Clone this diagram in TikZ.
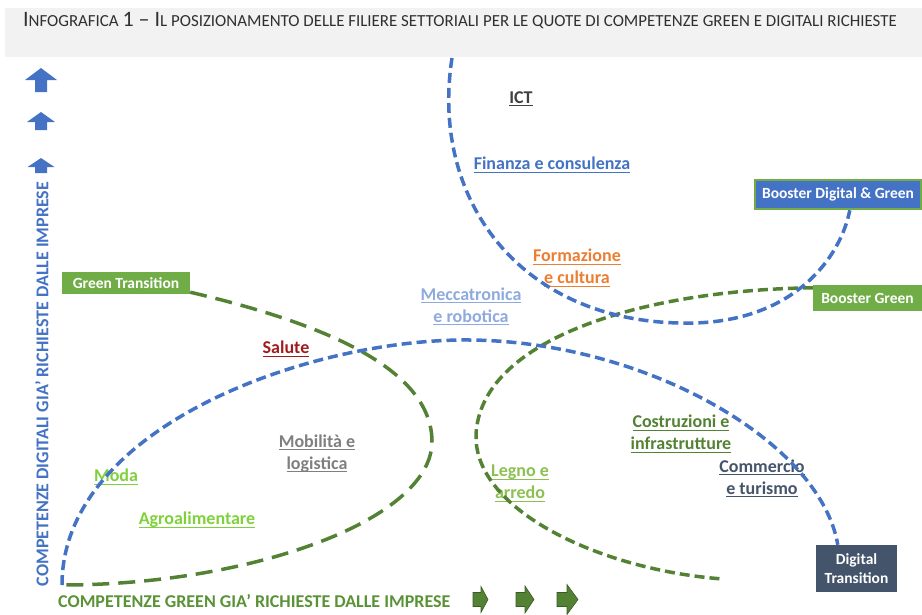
\documentclass[tikz,border=0pt]{standalone}
\usepackage{fontspec}
\setmainfont{Carlito}
\usetikzlibrary{calc}

\definecolor{dgblue}{HTML}{4472C4}
\definecolor{dggreen}{HTML}{70AD47}
\definecolor{dkgreen}{HTML}{548235}
\definecolor{axgreen}{HTML}{5A9236}
\definecolor{slate}{HTML}{44546A}
\definecolor{headgray}{HTML}{F2F2F2}
\definecolor{titlegray}{HTML}{303030}
\definecolor{ictgray}{HTML}{404040}
\definecolor{orangelab}{HTML}{ED7D31}
\definecolor{lightblue}{HTML}{8FAADC}
\definecolor{salutered}{HTML}{A01C1C}
\definecolor{mobgray}{HTML}{7F7F7F}
\definecolor{brightgreen}{HTML}{7FD13B}
\definecolor{legnogreen}{HTML}{8CC152}

\newcommand{\bigt}[1]{{\fontsize{22}{24}\selectfont #1}}
\newcommand{\smallt}[1]{{\fontsize{16.9}{24}\selectfont #1}}
\newcommand{\ulx}[1]{\setbox0=\hbox{#1}\rlap{\rule[-3pt]{\wd0}{1.2pt}}\box0}

\pgfdeclarelayer{labels}
\pgfdeclarelayer{curves}
\pgfsetlayers{labels,curves,main}

\tikzset{
  sector/.style={font=\bfseries\fontsize{18}{22}\selectfont, align=center, inner sep=1pt},
  tbox/.style={font=\bfseries\fontsize{15.5}{19}\selectfont, text=white, inner sep=0pt, align=center},
  axislab/.style={font=\bfseries\fontsize{18}{21}\selectfont, inner sep=0pt},
  bluecurve/.style={draw=dgblue, line width=3.5pt, dash pattern=on 10pt off 5pt},
  greenlong/.style={draw=dkgreen, line width=3.5pt, dash pattern=on 17pt off 9pt},
  greenshort/.style={draw=dkgreen, line width=3.5pt, dash pattern=on 10pt off 5pt},
}

\begin{document}
\begin{tikzpicture}[x=1pt, y=-1pt]
    \useasboundingbox (0,0) rectangle (922,614);

    % header
    \fill[headgray] (5,8) rectangle (922,57);
    \node[text=titlegray, inner sep=0pt] (title) at (460,21)
        {\bigt{I}\smallt{NFOGRAFICA }\bigt{1 – I}\smallt{L POSIZIONAMENTO DELLE FILIERE SETTORIALI PER LE QUOTE DI COMPETENZE GREEN E DIGITALI RICHIESTE}};

    % axes
    \foreach \yt/\yh/\yb/\hw in {68/80/92/16, 112/122/130/14, 158/167/173/13.5}
        \fill[dgblue] (41,\yt) -- (41+\hw,\yh) -- (47,\yh) -- (47,\yb) -- (35,\yb) -- (35,\yh) -- (41-\hw,\yh) -- cycle;
    \node[axislab, text=dgblue, rotate=90] (ylab) at (42,384) {COMPETENZE DIGITALI GIA’ RICHIESTE DALLE IMPRESE};

    \foreach \xl/\xh/\xt/\hh in {473/481/488/13, 516/525/534/13.5, 557/567/578/15}
        \filldraw[fill=dkgreen, draw=dkgreen!70!black, line width=0.6pt]
            (\xl,592.5) -- (\xh,592.5) -- (\xh,599.5-\hh) -- (\xt,599.5) -- (\xh,599.5+\hh) -- (\xh,606.5) -- (\xl,606.5) -- cycle;
    \node[axislab, text=axgreen, anchor=west] (xlab) at (58,601) {COMPETENZE GREEN GIA’ RICHIESTE DALLE IMPRESE};

    % sectors
    \begin{pgfonlayer}{labels}
    \node[sector, text=ictgray] (ict) at (521,99) {\ulx{ICT}};
    \node[sector, text=dgblue] (fin) at (552,165) {\ulx{Finanza e consulenza}};
    \node[sector, text=orangelab] (form) at (577,268) {\ulx{Formazione}\\\ulx{e cultura}};
    \node[sector, text=lightblue] (mecc) at (471,306.5) {\ulx{Meccatronica}\\\ulx{e robotica}};
    \node[sector, text=salutered] (sal) at (286,349) {\ulx{Salute}};
    \node[sector, text=mobgray] (mob) at (317,453.5) {\ulx{Mobilità e}\\\ulx{logistica}};
    \node[sector, text=brightgreen] (moda) at (116,477) {\ulx{Moda}};
    \node[sector, text=brightgreen] (agro) at (197,520) {\ulx{Agroalimentare}};
    \node[sector, text=legnogreen] (legno) at (520,483.5) {\ulx{Legno e}\\\ulx{arredo}};
    \node[sector, text=dkgreen] (costr) at (681,434) {\ulx{Costruzioni e}\\\ulx{infrastrutture}};
    \node[sector, text=slate] (comm) at (762,478.5) {\ulx{Commercio}\\\ulx{e turismo}};
    \end{pgfonlayer}

    % quadrants
    \node[tbox, fill=dggreen, minimum width=128pt, minimum height=22pt] (gt) at (126,283) {Green Transition};
    \node[tbox, fill=dgblue, draw=dggreen, line width=2.5pt, minimum width=166pt, minimum height=29pt] (bdg) at (838,194.5) {Booster Digital \& Green};
    \node[tbox, fill=dggreen, minimum width=109pt, minimum height=26pt] (bg) at (867.5,298) {Booster Green};
    \node[tbox, fill=slate, minimum width=81pt, minimum height=47pt] (dt) at (856.5,568.5) {Digital\\Transition};

    \coordinate (O) at (62,585);
    \coordinate (top) at (452,58);
    \coordinate (free) at (723,579);
    \coordinate (gtend) at ($(gt.south east)+(0,-2)$);
    \coordinate (bdgend) at ($(bdg.south west)!0.57!(bdg.south east)$);
    \coordinate (bgend) at ($(bg.north west)+(0,3)$);
    \coordinate (dtend) at ($(dt.north west)+(22,0)$);

    % curves
    \begin{pgfonlayer}{curves}
    \draw[greenlong] (gtend) .. controls (330,325) and (430,370) .. (432,440)
        .. controls (434,520) and (250,585) .. (O);
    \draw[greenshort] (bgend) .. controls (640,290) and (480,340) .. (476,435)
        .. controls (474,510) and (600,570) .. (free);
    \draw[bluecurve] (O) .. controls (62,430) and (300,342) .. (460,340)
        .. controls (640,338) and (820,440) .. (dtend);
    \draw[bluecurve] (top) .. controls (430,200) and (520,320) .. (680,323)
        .. controls (790,326) and (840,260) .. (bdgend);
    \end{pgfonlayer}
\end{tikzpicture}
\end{document}
